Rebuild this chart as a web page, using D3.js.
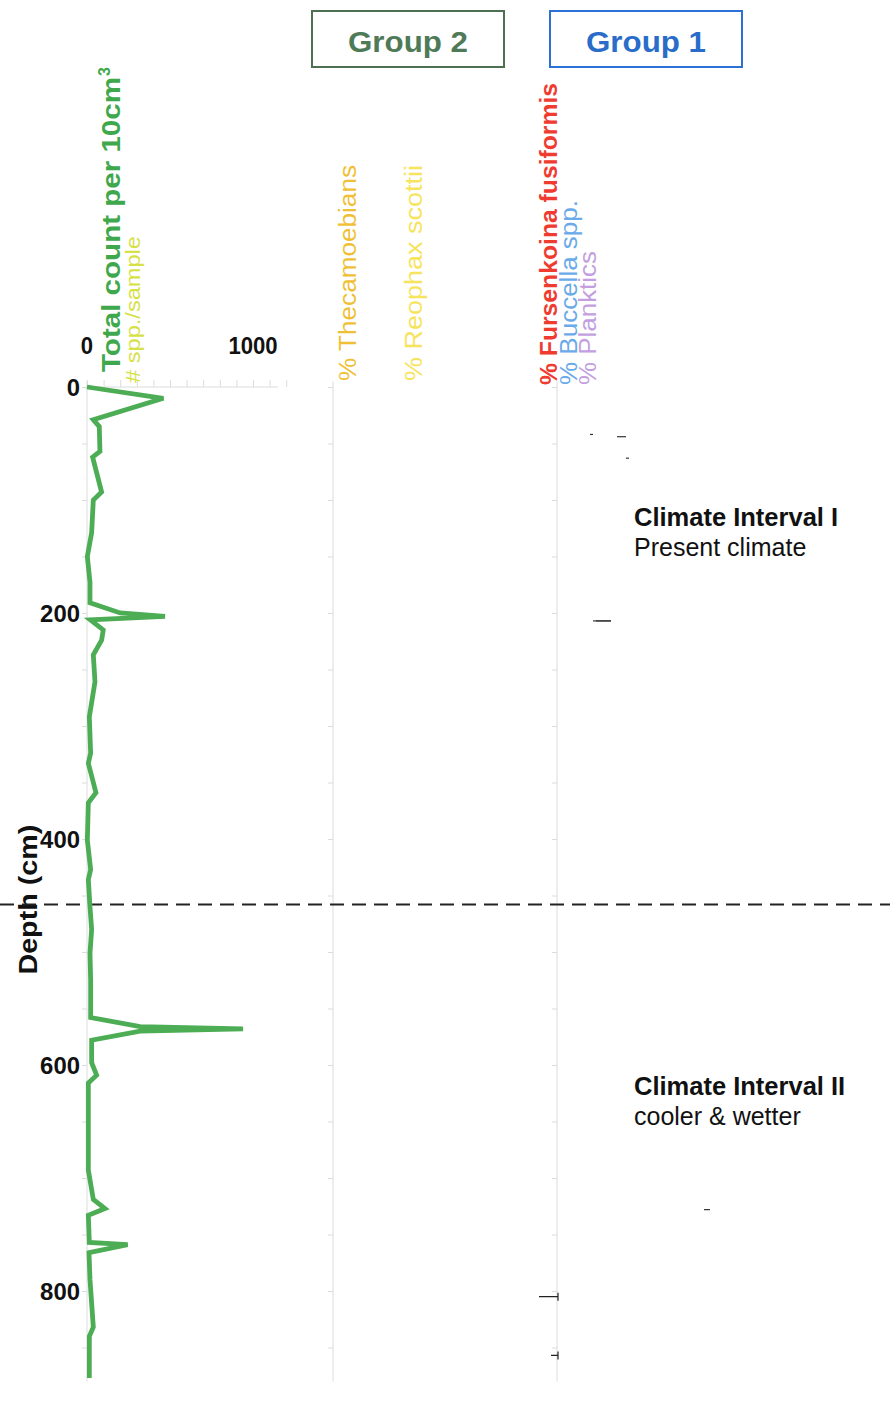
<!DOCTYPE html>
<html lang="en">
<head>
<meta charset="UTF-8">
<title>Foraminifera depth profile</title>
<script src="https://d3js.org/d3.v7.min.js"></script>
<style>
  body { margin: 0; background: #fff; }
  svg text { font-family: "Liberation Sans", Arial, sans-serif; }
  .tick-num { font-weight: bold; font-size: 24px; fill: #111; }
  .faint line, .faint path { stroke: #dcdcdc; }
</style>
</head>
<body>
<div id="chart"></div>
<script>
// depth (cm) and total foram count per 10 cm3
const depthCm = [0, 10, 29, 35, 57, 62, 93, 100, 129, 150, 173, 191, 200, 203, 206, 215, 224, 237, 261, 292, 324, 333, 359, 368, 401, 427, 436, 460, 480, 501, 525, 558, 566, 568, 570, 578, 598, 609, 616, 693, 719, 727, 733, 757, 759, 766, 790, 832, 840, 877];
const totalCount = [0, 460, 38, 74, 78, 34, 88, 38, 28, 2, 18, 18, 200, 470, 20, 98, 88, 38, 48, 14, 22, 8, 54, 8, 2, 22, 8, 18, 28, 18, 22, 22, 320, 940, 320, 28, 28, 58, 8, 8, 38, 108, 8, 14, 245, 12, 18, 38, 14, 14];

const depthTicks = [0, 200, 400, 600, 800];
const countTicks = [0, 1000];
const intervalBoundary = 458; // cm, dashed line between climate intervals

// tiny Group 1 traces (depth, % from, % to) – barely visible in the scan
const g1MarkDepth = [42, 44, 63, 207, 207, 728];
const g1MarkFrom = [11, 20, 23, 13, 12, 49];
const g1MarkTo = [12, 23, 24, 18, 18, 51];
const g1TickDepth = [805, 857];

const width = 890, height = 1408;
const svg = d3.select("#chart").append("svg")
  .attr("width", width).attr("height", height);

const y = d3.scaleLinear().domain([0, 800]).range([387, 1291]);
const xCount = d3.scaleLinear().domain([0, 1000]).range([87, 253]);
const xG2 = d3.scaleLinear().domain([0, 100]).range([333, 633]);
const xG1 = d3.scaleLinear().domain([0, 100]).range([557, 857]);
const depthMax = 880;

// faint column axes
[xCount(0), xG2(0), xG1(0)].forEach(x0 => {
  svg.append("g").attr("class", "faint")
    .attr("transform", `translate(${x0},0)`)
    .call(d3.axisLeft(y).tickValues(d3.range(0, depthMax, 50)).tickSize(5).tickFormat(""))
    .call(g => g.select(".domain").attr("d", `M0,${y(-5)}V${y(depthMax)}`));
});

// faint count axis along the top
svg.append("g").attr("class", "faint")
  .attr("transform", `translate(0,${y(0)})`)
  .call(d3.axisTop(xCount).tickValues(d3.range(0, 1300, 100)).tickSize(7).tickFormat(""))
  .call(g => g.select(".domain").attr("d", `M${xCount(0)},0H${xCount(1150)}`));

// count tick labels (the scan shows wide, tightly packed digits)
svg.selectAll(".count-lbl").data(countTicks).enter().append("text")
  .attr("class", "tick-num")
  .attr("x", d => xCount(d) - (String(d).length * 12.3) / 2).attr("y", 354)
  .attr("textLength", d => String(d).length * 12.3).attr("lengthAdjust", "spacingAndGlyphs")
  .text(d => d);

// depth tick labels
svg.selectAll(".depth-lbl").data(depthTicks).enter().append("text")
  .attr("class", "tick-num")
  .attr("x", d => 80 - String(d).length * 13.3).attr("y", d => y(d) + 9)
  .attr("textLength", d => String(d).length * 13.3).attr("lengthAdjust", "spacingAndGlyphs")
  .text(d => d);

// Depth title
svg.append("text")
  .attr("transform", `translate(37,${y(520)}) rotate(-90)`)
  .attr("textLength", 150).attr("lengthAdjust", "spacingAndGlyphs")
  .style("font-weight", "bold").style("font-size", "26px").style("fill", "#111")
  .text("Depth (cm)");

// column headers (rotated), lengths matched to the scan
const headers = [
  { x: 120, y: 372, len: 295, size: 25, weight: "bold", color: "#3fa84c", text: "Total count per 10cm" },
  { x: 140, y: 383, len: 147, size: 20, weight: "normal", color: "#d6e146", text: "# spp./sample" },
  { x: 356, y: 381, len: 216, size: 23, weight: "normal", color: "#f0bf36", text: "% Thecamoebians" },
  { x: 422, y: 381, len: 216, size: 23, weight: "normal", color: "#f7e45e", text: "% Reophax scottii" },
  { x: 557, y: 385, len: 302, size: 23, weight: "bold", color: "#ef3b30", text: "% Fursenkoina fusiformis" },
  { x: 577, y: 385, len: 185, size: 23, weight: "normal", color: "#6aaae8", text: "% Buccella spp." },
  { x: 596, y: 385, len: 134, size: 23, weight: "normal", color: "#c39fe0", text: "% Planktics" }
];
headers.forEach(h => {
  svg.append("text")
    .attr("transform", `translate(${h.x},${h.y}) rotate(-90)`)
    .attr("textLength", h.len).attr("lengthAdjust", "spacingAndGlyphs")
    .style("font-size", h.size + "px").style("font-weight", h.weight).style("fill", h.color)
    .text(h.text);
});
// superscript 3 of cm3
svg.append("text")
  .attr("transform", `translate(110,${372 - 296}) rotate(-90)`)
  .style("font-size", "16px").style("font-weight", "bold").style("fill", "#3fa84c")
  .text("3");

// group boxes
const groups = [
  { label: "Group 2", x: 312, stroke: "#4d6f52", fill: "#4f7a57" },
  { label: "Group 1", x: 550, stroke: "#2c72d6", fill: "#2a6cc9" }
];
groups.forEach(g => {
  svg.append("rect").attr("x", g.x).attr("y", 11).attr("width", 192).attr("height", 56)
    .attr("fill", "none").attr("stroke", g.stroke).attr("stroke-width", 2);
  svg.append("text").attr("x", g.x + 36).attr("y", 52)
    .attr("textLength", 120).attr("lengthAdjust", "spacingAndGlyphs")
    .style("font-size", "29px").style("font-weight", "bold").style("fill", g.fill)
    .text(g.label);
});

// interval boundary
svg.append("line")
  .attr("x1", 0).attr("x2", width)
  .attr("y1", y(intervalBoundary)).attr("y2", y(intervalBoundary))
  .attr("stroke", "#222").attr("stroke-width", 2).attr("stroke-dasharray", "14,8");

// total count curve
const series = depthCm.map((d, i) => ({ depth: d, count: totalCount[i] }));
svg.append("path").datum(series)
  .attr("fill", "none").attr("stroke", "#4cad55").attr("stroke-width", 4.8)
  .attr("stroke-linejoin", "miter").attr("stroke-miterlimit", 4)
  .attr("d", d3.line().x(d => xCount(d.count)).y(d => y(d.depth)));

// tiny group 1 traces
svg.selectAll(".g1mark").data(g1MarkDepth).enter().append("line")
  .attr("x1", (d, i) => xG1(g1MarkFrom[i])).attr("x2", (d, i) => xG1(g1MarkTo[i]))
  .attr("y1", d => y(d)).attr("y2", d => y(d))
  .attr("stroke", "#333").attr("stroke-width", 1.2);
svg.selectAll(".g1tick").data(g1TickDepth).enter().append("path")
  .attr("d", (d, i) => `M${xG1(0) - (i ? 6 : 18)},${y(d)}H${xG1(0) + 1}M${xG1(0) + 1},${y(d) - 4}V${y(d) + 4}`)
  .attr("stroke", "#222").attr("stroke-width", 1.2).attr("fill", "none");

// climate interval annotations
const notes = [
  { depth: 117, title: "Climate Interval I", sub: "Present climate" },
  { depth: 620, title: "Climate Interval II", sub: "cooler & wetter" }
];
notes.forEach(n => {
  svg.append("text").attr("x", 634).attr("y", y(n.depth) + 7)
    .style("font-size", "25.5px").style("font-weight", "bold").style("fill", "#111").text(n.title);
  svg.append("text").attr("x", 634).attr("y", y(n.depth) + 37)
    .style("font-size", "25px").style("fill", "#111").text(n.sub);
});
</script>
</body>
</html>
